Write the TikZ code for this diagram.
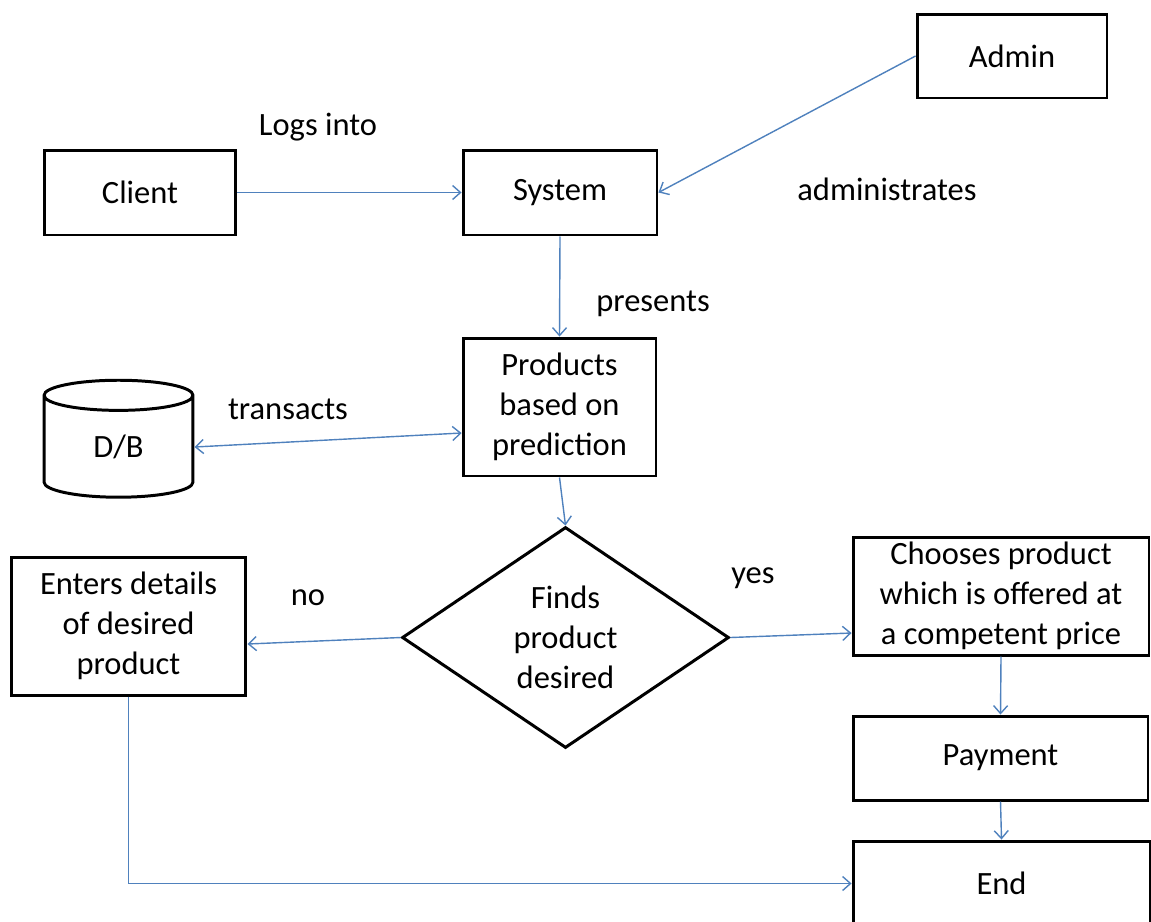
\documentclass[tikz,border=0pt]{standalone}
\usepackage{fontspec}
\setmainfont{Carlito}
\usepackage{tikz}
\usetikzlibrary{arrows.meta}
\usetikzlibrary{calc}
\usetikzlibrary{shapes.geometric}
\definecolor{azul}{RGB}{79,129,189}
\begin{document}
\begin{tikzpicture}[x=0.02cm,y=-0.02cm,>={Straight Barb[length=4.5pt,width=8pt]},
	caja/.style={rectangle,draw,line width=1.7pt,align=center,inner sep=0pt},
	flecha/.style={line width=0.8pt,color=azul},
	etiqueta/.style={inner sep=0pt}]
	\fontsize{18.5}{22.7}\selectfont
	\useasboundingbox (0,0) rectangle (1151,921);
				\path 
				(140,192.5) node(client) [caja,minimum width=3.84cm,minimum height=1.70cm] {Client}
				(560,192.5) node(system) [caja,minimum width=3.88cm,minimum height=1.70cm] {System}
				(1012,56) node(admin) [caja,minimum width=3.80cm,minimum height=1.68cm] {Admin}
				(559.5,407) node(products) [caja,minimum width=3.86cm,minimum height=2.76cm] {Products\\based on\\prediction}
				(118.5,447) node(db) [cylinder,draw,line width=1.7pt,shape border rotate=90,aspect=0.6,minimum width=2.98cm,minimum height=2.34cm,inner sep=0pt] {D/B}
				(565.5,637.5) node(finds) [diamond,draw,line width=1.7pt,aspect=1.48,minimum width=6.54cm,minimum height=4.42cm,inner sep=0pt,align=center] {Finds\\product\\desired}
				(128.5,626) node(enters) [caja,minimum width=4.70cm,minimum height=2.76cm] {Enters details\\of desired\\product}
				(1001,596) node(chooses) [caja,minimum width=5.92cm,minimum height=2.36cm] {Chooses product\\which is offered at\\a competent price}
				(1000.5,758) node(payment) [caja,minimum width=5.90cm,minimum height=1.68cm] {Payment}
				(1001.5,883.5) node(end) [caja,minimum width=5.94cm,minimum height=1.70cm] {End};
				\path
				(318,127) node(l1) [etiqueta] {Logs into}
				(887,189) node(l2) [etiqueta] {administrates}
				(653,304) node(l3) [etiqueta] {presents}
				(288,409) node(l4) [etiqueta] {transacts}
				(308,598) node(l5) [etiqueta] {no}
				(753,578) node(l6) [etiqueta] {yes};
				\draw[flecha]
				(client.east) edge[->] (system.west)
				(admin.west) edge[->] (system.east)
				(system.south) edge[->] (products.north)
				($(products.west)+(0,26)$) edge[<->] (db.east)
				(products.south) edge[->] (finds.north)
				(finds.west) edge[->] ($(enters.east)+(0,18)$)
				(finds.east) edge[->] ($(chooses.west)+(0,37)$)
				(chooses.south) edge[->] (payment.north)
				(payment.south) edge[->] (end.north);
				\draw[flecha,->] (enters.south) |- (end.west);
			\end{tikzpicture}
\end{document}
